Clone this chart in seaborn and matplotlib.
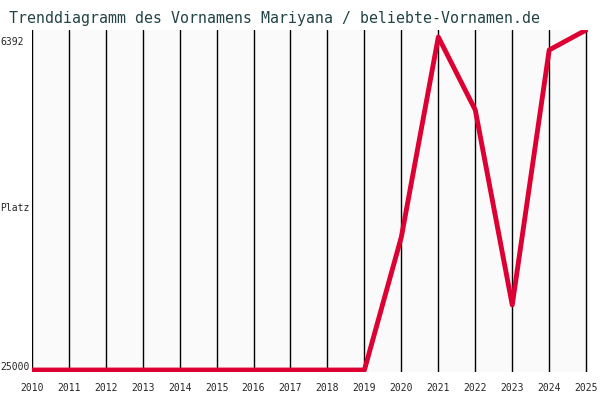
import matplotlib
matplotlib.use("Agg")
import matplotlib.pyplot as plt
import seaborn as sns
import pandas as pd

jahre = list(range(2010, 2026))
platz = [25000] * 10 + [17450, 6110, 10250, 21310, 6846, 5710]

df = pd.DataFrame({"Jahr": jahre, "Platz": platz})

sns.set_style("white")
plt.rcParams["font.family"] = ["DejaVu Sans Mono"]

fig = plt.figure(figsize=(6, 4), dpi=100, facecolor="white")
ax = fig.add_axes([0.053, 0.07, 0.927, 0.855])
ax.set_facecolor("#fafafa")

for j in jahre:
    ax.axvline(j, color="black", lw=1, zorder=1)

sns.lineplot(data=df, x="Jahr", y="Platz", color="#dd0033", lw=3.5, ax=ax, zorder=3)

ax.set_xlim(2010, 2025.05)
ax.set_ylim(25113, 5712)
ax.set_xticks(jahre)
ax.set_xticklabels([str(j) for j in jahre], fontsize=7)
ax.set_yticks([])
ax.set_xlabel("")
ax.set_ylabel("")
ax.tick_params(axis="x", length=0, pad=8)
for s in ax.spines.values():
    s.set_visible(False)

fig.text(0.0, 1 - 42 / 400, "6392", fontsize=7, va="center", ha="left")
fig.text(0.0, 1 - 208 / 400, "Platz", fontsize=7, va="center", ha="left")
fig.text(0.0, 1 - 367 / 400, "25000", fontsize=7, va="center", ha="left")

fig.text(0.015, 0.955, "Trenddiagramm des Vornamens Mariyana / beliebte-Vornamen.de",
         fontsize=10.7, color="#224444", va="center", ha="left")

fig.savefig("out.png", dpi=100)
